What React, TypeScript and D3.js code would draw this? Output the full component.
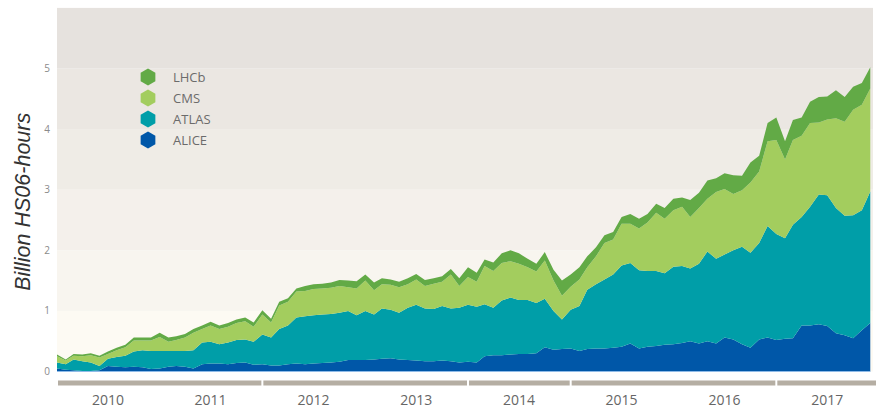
import React from "react";
import * as d3 from "d3";

// monthly CPU delivered, billion HS06-hours, Jan 2010 .. Dec 2017 (one row per year)
const alice = [
  0.05, 0.03, 0.02, 0.01, 0.01, 0.02, 0.09, 0.08, 0.07, 0.08, 0.07, 0.04,
  0.05, 0.08, 0.09, 0.08, 0.05, 0.12, 0.13, 0.13, 0.12, 0.14, 0.15, 0.11,
  0.12, 0.1, 0.1, 0.12, 0.13, 0.12, 0.13, 0.14, 0.15, 0.16, 0.19, 0.19,
  0.19, 0.2, 0.21, 0.22, 0.2, 0.19, 0.18, 0.17, 0.17, 0.18, 0.17, 0.15,
  0.16, 0.15, 0.25, 0.27, 0.27, 0.28, 0.29, 0.29, 0.3, 0.4, 0.36, 0.37,
  0.38, 0.34, 0.37, 0.38, 0.38, 0.39, 0.41, 0.46, 0.38, 0.41, 0.42, 0.44,
  0.45, 0.47, 0.5, 0.46, 0.5, 0.46, 0.56, 0.53, 0.45, 0.39, 0.53, 0.56,
  0.52, 0.54, 0.55, 0.76, 0.76, 0.78, 0.75, 0.63, 0.6, 0.55, 0.68, 0.8,
];
const atlas = [
  0.1, 0.09, 0.18, 0.16, 0.14, 0.07, 0.12, 0.16, 0.19, 0.25, 0.28, 0.3,
  0.29, 0.26, 0.25, 0.26, 0.3, 0.36, 0.36, 0.32, 0.36, 0.38, 0.38, 0.38,
  0.49, 0.46, 0.6, 0.64, 0.76, 0.79, 0.8, 0.8, 0.8, 0.81, 0.81, 0.74,
  0.81, 0.74, 0.83, 0.8, 0.77, 0.86, 0.92, 0.87, 0.86, 0.9, 0.87, 0.9,
  0.94, 0.92, 0.86, 0.78, 0.9, 0.94, 0.89, 0.89, 0.83, 0.8, 0.64, 0.49,
  0.64, 0.74, 0.98, 1.06, 1.14, 1.21, 1.34, 1.33, 1.29, 1.25, 1.24, 1.18,
  1.28, 1.27, 1.2, 1.32, 1.48, 1.4, 1.37, 1.47, 1.61, 1.57, 1.59, 1.84,
  1.75, 1.66, 1.87, 1.79, 1.96, 2.14, 2.16, 2.07, 1.97, 2.03, 1.98, 2.17,
];
const cms = [
  0.1, 0.06, 0.06, 0.08, 0.12, 0.14, 0.08, 0.11, 0.14, 0.18, 0.16, 0.17,
  0.23, 0.15, 0.18, 0.22, 0.29, 0.22, 0.27, 0.25, 0.26, 0.28, 0.3, 0.25,
  0.33, 0.25, 0.39, 0.39, 0.43, 0.42, 0.43, 0.43, 0.43, 0.44, 0.39, 0.44,
  0.5, 0.4, 0.4, 0.41, 0.42, 0.39, 0.42, 0.37, 0.42, 0.4, 0.56, 0.36,
  0.46, 0.41, 0.63, 0.61, 0.62, 0.6, 0.6, 0.54, 0.52, 0.63, 0.5, 0.39,
  0.38, 0.44, 0.37, 0.46, 0.6, 0.58, 0.69, 0.65, 0.69, 0.8, 0.96, 0.9,
  0.93, 0.98, 0.85, 0.92, 0.87, 1.1, 1.08, 0.93, 0.93, 1.16, 1.18, 1.4,
  1.55, 1.3, 1.4, 1.34, 1.38, 1.19, 1.25, 1.48, 1.55, 1.74, 1.74, 1.7,
];
const lhcb = [
  0.03, 0.02, 0.03, 0.03, 0.03, 0.03, 0.04, 0.04, 0.04, 0.05, 0.05, 0.05,
  0.07, 0.07, 0.06, 0.06, 0.06, 0.06, 0.06, 0.06, 0.06, 0.06, 0.06, 0.07,
  0.07, 0.06, 0.06, 0.06, 0.05, 0.08, 0.08, 0.08, 0.09, 0.1, 0.11, 0.12,
  0.1, 0.13, 0.1, 0.09, 0.09, 0.1, 0.09, 0.1, 0.09, 0.09, 0.09, 0.13,
  0.16, 0.15, 0.11, 0.14, 0.16, 0.18, 0.17, 0.14, 0.13, 0.14, 0.18, 0.25,
  0.2, 0.2, 0.18, 0.15, 0.13, 0.12, 0.11, 0.16, 0.16, 0.14, 0.15, 0.18,
  0.19, 0.15, 0.28, 0.25, 0.3, 0.23, 0.26, 0.31, 0.24, 0.33, 0.26, 0.3,
  0.37, 0.3, 0.33, 0.3, 0.35, 0.42, 0.38, 0.46, 0.41, 0.38, 0.36, 0.35,
];

const experiments = ["ALICE", "ATLAS", "CMS", "LHCb"];
const colors = ["#0057a8", "#009ea8", "#a3cd5e", "#62aa46"];
const years = [2010, 2011, 2012, 2013, 2014, 2015, 2016, 2017];
// the grey bar under the axis is broken at these year boundaries only
const barBreaks = [2010, 2012, 2014, 2015, 2017, 2018];
const yTicks = [0, 1, 2, 3, 4, 5];

const months = d3.timeMonth.range(new Date(2010, 0, 1), new Date(2018, 0, 1));

export default function App() {
  const x = d3
    .scaleTime()
    .domain([new Date(2010, 0, 1), new Date(2018, 0, 1)])
    .range([57, 879]);
  const y = d3.scaleLinear().domain([0, 6]).range([371.5, 7.9]);
  const plotRight = 873;

  const rows = months.map((m, i) => ({
    date: m,
    ALICE: alice[i],
    ATLAS: atlas[i],
    CMS: cms[i],
    LHCb: lhcb[i],
  }));
  const series = d3.stack().keys(experiments)(rows as any);

  const area = d3
    .area<any>()
    .x((d) => x(d.data.date))
    .y0((d) => y(d[0]))
    .y1((d) => y(d[1]))
    .curve(d3.curveLinear);

  // background bands, darker towards the top
  const bandColor = d3.interpolateRgb("#fdfaf3", "#e6e2de");
  const bands = d3.range(6);

  const hex = (r: number) =>
    d3.range(6).map((k) => {
      const a = (Math.PI / 3) * k - Math.PI / 2;
      return [r * Math.cos(a), r * Math.sin(a)];
    });
  const hexPath = "M" + hex(8.5).map((p) => p.join(",")).join("L") + "Z";

  const legendItems = ["LHCb", "CMS", "ATLAS", "ALICE"];

  return (
    <svg
      width={880}
      height={410}
      style={{ position: "absolute", left: 0, top: 0, background: "#fff" }}
      fontFamily="'Open Sans', sans-serif"
    >
      {bands.map((b) => (
        <rect
          key={b}
          x={57}
          width={plotRight - 57}
          y={y(b + 1)}
          height={y(b) - y(b + 1)}
          fill={bandColor(b / 5)}
        />
      ))}

      {series.map((s, i) => (
        <path key={s.key} d={area(s as any) || ""} fill={colors[i]} />
      ))}
      <line
        x1={57}
        x2={x(months[months.length - 1])}
        y1={y(0)}
        y2={y(0)}
        stroke="#8fbbe8"
        strokeWidth={1}
      />

      {yTicks.map((t) => (
        <text
          key={t}
          x={47}
          y={y(t) + 3.5}
          textAnchor="middle"
          fontSize={10}
          fill="#8a8a8a"
        >
          {t}
        </text>
      ))}

      <text
        transform={`translate(30,${y(2.8)}) rotate(-90)`}
        textAnchor="middle"
        fontStyle="italic"
        fontFamily="'Liberation Sans', Arial, sans-serif"
        fontSize={21.5}
        fill="#333"
      >
        Billion HS06-hours
      </text>

      {barBreaks.slice(0, -1).map((b, i) => {
        const x0 = x(new Date(b, 0, 1)) + 1;
        const x1 = Math.min(x(new Date(barBreaks[i + 1], 0, 1)) - 1, plotRight + 3);
        return (
          <rect key={b} x={x0} y={380.5} width={x1 - x0} height={5} fill="#b5aea3" />
        );
      })}

      {years.map((yr) => (
        <text
          key={yr}
          x={x(new Date(yr, 6, 1))}
          y={405}
          textAnchor="middle"
          fontSize={14}
          fill="#666"
        >
          {yr}
        </text>
      ))}

      <g transform="translate(148,77)">
        {legendItems.map((name, i) => (
          <g key={name} transform={`translate(0,${i * 21})`}>
            <path d={hexPath} fill={colors[experiments.indexOf(name)]} />
            <text x={25} y={5} fontSize={13} fill="#6b6b6b">
              {name}
            </text>
          </g>
        ))}
      </g>
    </svg>
  );
}
